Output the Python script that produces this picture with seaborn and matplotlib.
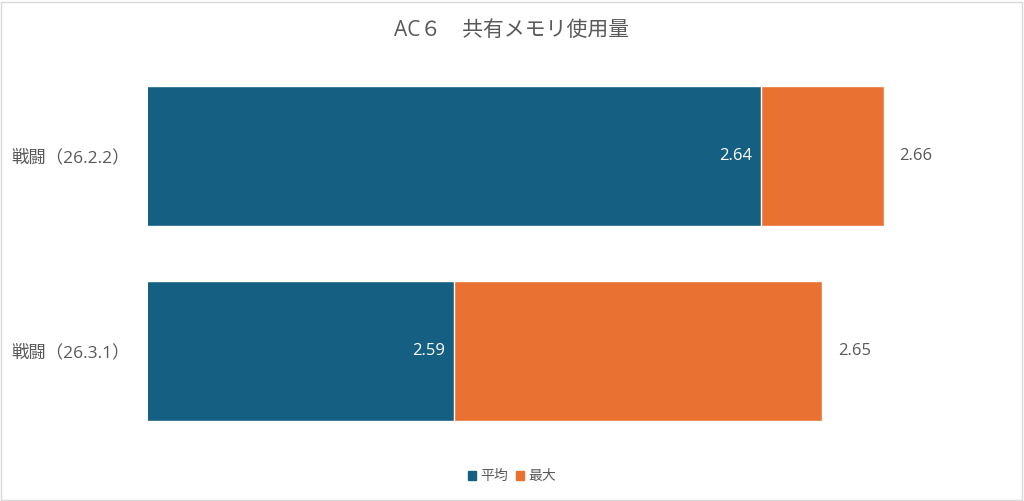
import pandas as pd
import seaborn as sns
import matplotlib.pyplot as plt
from matplotlib.patches import Patch, Rectangle

categories = ["戦闘（26.2.2）", "戦闘（26.3.1）"]
avg_vals = [2.64, 2.59]
max_vals = [2.66, 2.65]
series_names = ["平均", "最大"]
title = "AC６　共有メモリ使用量"

blue = "#156082"
orange = "#E97132"
text_col = "#595959"

sns.set_theme(style="white")
plt.rcParams['font.family'] = ['Open Sans', 'Noto Sans CJK JP', 'DejaVu Sans']

df = pd.DataFrame({"cat": categories, "avg": avg_vals, "max": max_vals})

fig = plt.figure(figsize=(10.24, 5.01), dpi=100)
ax = fig.add_axes([0.1445, 0.1048, 0.7783, 0.7784])

# max bar behind, average bar on top (100% overlap)
sns.barplot(data=df, x="max", y="cat", color=orange, width=0.713, saturation=1, ax=ax)
sns.barplot(data=df, x="avg", y="cat", color=blue, width=0.713, saturation=1, ax=ax)
ax.set_xlim(2.54, 2.67)

for i, (a, m) in enumerate(zip(avg_vals, max_vals)):
    ax.annotate(f"{a:.2f}", (a, i), xytext=(-6.5, 0), textcoords="offset points",
                ha="right", va="center", color="white", fontsize=12)
    ax.annotate(f"{m:.2f}", (m, i), xytext=(11.5, 0), textcoords="offset points",
                ha="left", va="center", color=text_col, fontsize=12)

ax.set_xlabel("")
ax.set_ylabel("")
ax.set_xticks([])
ax.tick_params(axis="y", length=0, pad=13, labelsize=12.5, labelcolor=text_col)
for s in ax.spines.values():
    s.set_visible(False)

fig.suptitle(title, y=0.96, fontsize=15, color=text_col)

handles = [Patch(color=blue, label=series_names[0]), Patch(color=orange, label=series_names[1])]
fig.legend(handles=handles, loc="center", bbox_to_anchor=(0.5, 0.048), ncol=2, frameon=False,
           fontsize=10, handlelength=0.55, handleheight=0.55, handletextpad=0.3, columnspacing=0.6,
           labelcolor=text_col)

fig.patches.append(Rectangle((0.001, 0.002), 0.997, 0.995, transform=fig.transFigure,
                             fill=False, edgecolor="#d9d9d9", linewidth=1))

fig.savefig("out.png", dpi=100)
